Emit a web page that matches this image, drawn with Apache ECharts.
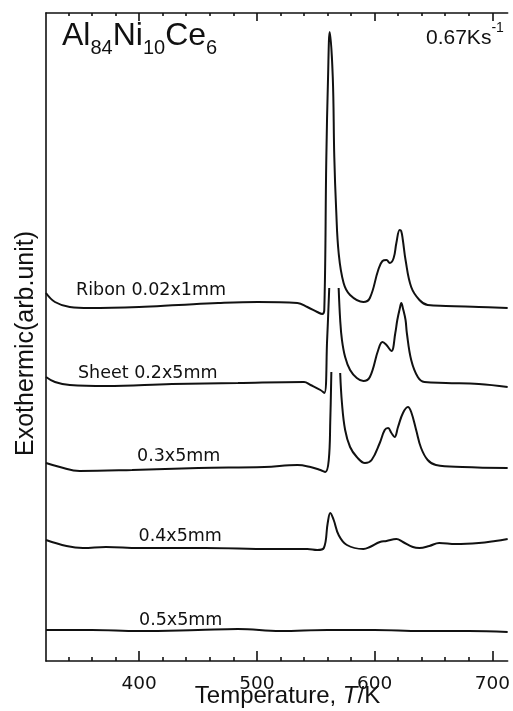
<!DOCTYPE html>
<html>
<head>
<meta charset="utf-8">
<script src="https://cdn.jsdelivr.net/npm/echarts@6/dist/echarts.min.js"></script>
<style>
  html, body { margin: 0; padding: 0; background: #fff; }
  #chart { width: 513px; height: 711px; }
</style>
</head>
<body>
<div id="chart"></div>
<script>
// temperature in K, signal in arb. units (0 = bottom axis)
const majorTicks = [400, 500, 600, 700];
const minorTicks = [340, 360, 380, 420, 440, 460, 480, 520, 540, 560, 580, 620, 640, 660, 680];

const ribbonT = [321, 328.6, 341.2, 358, 400, 433.6, 467.2, 500.8, 534.5, 542.9, 551.3, 555.5, 557.3, 559.0, 560.5, 561.9, 564.5, 565.8, 567.4, 569.5, 573.7, 579.2, 590.5, 596.0, 603.1, 606.7, 610.1, 612.9, 616.2, 618.5, 621.3, 622.6, 624.0, 626.3, 631.1, 638.1, 645.1, 660.5, 688.5, 713];
const ribbonY = [368, 359, 354, 353, 354, 356, 358, 359, 358, 354, 349, 347, 351, 501, 584, 629, 584, 504, 451, 408, 378, 366, 359, 363, 391, 400, 401, 398, 403, 418, 431, 430, 421, 401, 374, 361, 356, 355, 354, 353];

const sheetT = [321, 328.6, 341.2, 372, 428, 484, 540.1, 545.6, 554.0, 557.4, 559.7, 561.5, 565, 569.5, 570.8, 572.3, 575.0, 579.2, 584.9, 590.5, 596.0, 603.1, 606.7, 610.1, 614.3, 617.6, 619.3, 621.5, 622.7, 624.0, 626.3, 627.4, 631.1, 636.7, 642.3, 660.5, 688.5, 713];
const sheetY = [284, 279, 276, 275, 277, 278, 279, 276, 271, 268, 321, 373, null, 373, 341, 321, 304, 291, 283, 280, 284, 311, 319, 316, 310, 328, 341, 353, 358, 353, 341, 328, 301, 284, 279, 278, 277, 274];

const mm03T = [321, 332.8, 349.6, 394.1, 450.4, 506.5, 534.5, 545.6, 554.0, 558.2, 561.1, 562.4, 563.3, 567, 570.8, 572.3, 575.0, 579.2, 584.9, 591.8, 597.5, 604.4, 608.6, 611.5, 614.3, 617.0, 619.9, 624.1, 628.3, 631.1, 635.3, 639.5, 645.1, 652.1, 674.5, 713];
const mm03Y = [198, 194, 190, 191, 193, 194, 196, 194, 191, 189, 201, 241, 289, null, 288, 258, 231, 214, 204, 198, 201, 218, 231, 233, 228, 224, 234, 248, 254, 249, 231, 213, 201, 196, 194, 193];

const mm04T = [321, 338.4, 352.4, 372, 400, 456.1, 512, 542.9, 551.3, 556.9, 560.2, 562.4, 565.3, 569.5, 576.5, 590.5, 596.0, 604.5, 610.1, 618.5, 624.1, 632.5, 638.1, 646.5, 654.9, 668.9, 688.5, 702.5, 713];
const mm04Y = [121, 115, 113, 114, 113, 113, 112, 112, 111, 113, 138, 148, 141, 126, 116, 112, 114, 119, 120, 122, 119, 114, 113, 115, 118, 117, 118, 120, 122];

const mm05T = [321, 360, 400, 450, 484, 520, 560, 600, 640, 680, 713];
const mm05Y = [31, 31, 30, 31, 32, 30, 31, 31, 30, 30, 29];

const curveNames = ['Ribon 0.02x1mm', 'Sheet 0.2x5mm', '0.3x5mm', '0.4x5mm', '0.5x5mm'];

const ink = '#111';
const xMin = 321, xMax = 713;

function pairs(ts, ys) {
  return ts.map((t, i) => [t, ys[i] === null ? '-' : ys[i]]);
}

function curve(name, ts, ys) {
  return {
    name: name,
    type: 'line',
    data: pairs(ts, ys),
    showSymbol: false,
    smooth: 0.4,
    lineStyle: { color: ink, width: 2 },
    silent: true,
    animation: false
  };
}

function tickAxis(pos, values, len, withLine, withLabel) {
  return {
    type: 'value',
    position: pos,
    min: xMin,
    max: xMax,
    axisLine: { show: withLine, lineStyle: { color: ink, width: 1.6 } },
    axisTick: { inside: true, length: len, customValues: values, lineStyle: { color: ink, width: 1.6 } },
    axisLabel: withLabel ? {
      customValues: values, margin: 14, color: ink,
      fontFamily: 'DejaVu Sans', fontSize: 18.5
    } : { show: false },
    splitLine: { show: false }
  };
}

function label(text, x, base) {
  // x = left edge, base = text baseline
  return {
    type: 'text', x: x, y: base + 2.7, silent: true,
    style: {
      text: text, fill: ink, fontFamily: 'DejaVu Sans', fontSize: 17.5,
      align: 'left', verticalAlign: 'bottom', textAlign: 'left', textVerticalAlign: 'bottom'
    }
  };
}

const chart = echarts.init(document.getElementById('chart'));
chart.setOption({
  backgroundColor: '#fff',
  animation: false,
  grid: { left: 46, right: 0, top: 13, bottom: 50 },
  xAxis: [
    tickAxis('bottom', majorTicks, 10, true, true),
    tickAxis('bottom', minorTicks, 4, false, false),
    tickAxis('top', majorTicks, 8, true, false),
    tickAxis('top', minorTicks, 3, false, false)
  ],
  yAxis: {
    type: 'value', min: 0, max: 648,
    axisLine: { show: true, lineStyle: { color: ink, width: 1.6 } },
    axisTick: { show: false },
    axisLabel: { show: false },
    splitLine: { show: false }
  },
  series: [
    curve(curveNames[0], ribbonT, ribbonY),
    curve(curveNames[1], sheetT, sheetY),
    curve(curveNames[2], mm03T, mm03Y),
    curve(curveNames[3], mm04T, mm04Y),
    curve(curveNames[4], mm05T, mm05Y)
  ],
  graphic: [
    label(curveNames[0], 76, 297),
    label(curveNames[1], 78, 379.5),
    label(curveNames[2], 137, 462.5),
    label(curveNames[3], 138.5, 543),
    label(curveNames[4], 139, 626.5),
    {
      type: 'text', x: 62, y: 58, silent: true,
      style: {
        text: '{a|Al}{s|84}{a|Ni}{s|10}{a|Ce}{s|6}',
        fill: ink, align: 'left', verticalAlign: 'bottom', textAlign: 'left', textVerticalAlign: 'bottom',
        rich: {
          a: { fontFamily: 'Liberation Sans', fontSize: 32, fill: ink, verticalAlign: 'bottom', padding: [0, 0, 6, 0] },
          s: { fontFamily: 'Liberation Sans', fontSize: 20, fill: ink, verticalAlign: 'bottom' }
        }
      }
    },
    {
      type: 'text', x: 426, y: 49, silent: true,
      style: {
        text: '{a|0.67Ks}{p|-1}',
        fill: ink, align: 'left', verticalAlign: 'bottom', textAlign: 'left', textVerticalAlign: 'bottom',
        rich: {
          a: { fontFamily: 'Liberation Sans', fontSize: 21, fill: ink, verticalAlign: 'bottom' },
          p: { fontFamily: 'Liberation Sans', fontSize: 14, fill: ink, verticalAlign: 'bottom', padding: [0, 0, 14, 0] }
        }
      }
    },
    {
      type: 'text', x: 287.5, y: 696.7, silent: true,
      style: {
        text: '{n|Temperature, }{i|T}{n|/K}',
        fill: ink, align: 'center', verticalAlign: 'middle', textAlign: 'center', textVerticalAlign: 'middle',
        rich: {
          n: { fontFamily: 'Liberation Sans', fontSize: 24, fill: ink },
          i: { fontFamily: 'Liberation Sans', fontSize: 24, fontStyle: 'italic', fill: ink }
        }
      }
    },
    {
      type: 'text', x: 26.5, y: 343.5, rotation: Math.PI / 2, silent: true,
      style: {
        text: 'Exothermic(arb.unit)', fill: ink,
        fontFamily: 'Liberation Sans', fontSize: 25,
        align: 'center', verticalAlign: 'middle', textAlign: 'center', textVerticalAlign: 'middle'
      }
    }
  ]
});
</script>
</body>
</html>
